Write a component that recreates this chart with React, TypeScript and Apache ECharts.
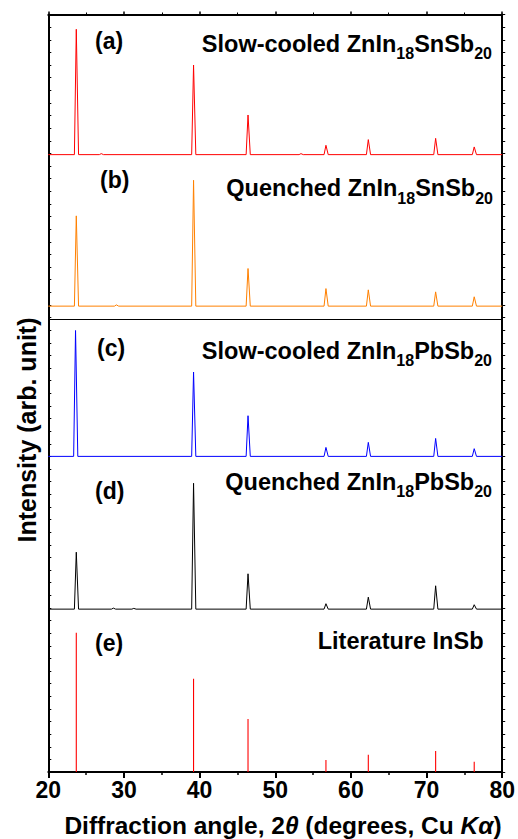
import React, { useEffect, useRef } from "react";
import * as echarts from "echarts";

// ---- data ----
const xMin = 20;
const xMax = 80;
const xTickStep = 10;

const panelLabels = ["(a)", "(b)", "(c)", "(d)", "(e)"];
const titleParts: string[][] = [
  ["Slow-cooled ZnIn", "18", "SnSb", "20"],
  ["Quenched ZnIn", "18", "SnSb", "20"],
  ["Slow-cooled ZnIn", "18", "PbSb", "20"],
  ["Quenched ZnIn", "18", "PbSb", "20"],
  ["Literature InSb"],
];

// 2θ positions (degrees) and intensities (arb. unit)
const peaksA = [23.7, 27.0, 39.2, 46.4, 53.4, 56.7, 62.3, 71.2, 76.3];
const intensA = [99.3, 0.8, 71.0, 31.4, 0.8, 7.4, 11.9, 12.9, 6.1];
const peaksB = [23.7, 29.0, 39.2, 46.4, 56.7, 62.3, 71.2, 76.3];
const intensB = [71.5, 1.0, 99.7, 29.8, 13.9, 12.9, 11.3, 7.4];
const peaksC = [23.6, 39.2, 46.4, 56.7, 62.3, 71.2, 76.3];
const intensC = [99.7, 66.8, 32.2, 7.1, 11.1, 14.2, 6.1];
const peaksD = [23.7, 28.6, 31.3, 39.2, 46.4, 56.7, 62.3, 71.2, 76.3];
const intensD = [45.1, 0.8, 0.6, 99.7, 28.0, 4.3, 9.5, 18.5, 3.5];
const peaksE = [23.7, 39.2, 46.4, 56.7, 62.3, 71.2, 76.3];
const intensE = [110.3, 73.9, 42.0, 9.5, 13.7, 16.6, 8.2];

// vertical stacking offsets of each pattern (arb. unit)
const offsets = [489, 369, 250, 129, 0];
const dividerLevel = 359;
const yMax = 600;

// ---- styling / layout ----
const FONT = '"Liberation Sans", Arial, sans-serif';
const colors = ["#ff0000", "#ff8000", "#0000ff", "#000000", "#ff0000"];
const labelPos = [
  [95, 41],
  [100, 180],
  [97, 348],
  [95, 491],
  [95, 643],
];
const titlePos = [
  [492, 52.3],
  [493, 196.7],
  [492, 359.3],
  [492, 490],
  [483.5, 649.3],
];
const MAIN_SIZE = 23.5;
const SUB_SIZE = 16;

function profile(peaks: number[], intens: number[], off: number) {
  const pts: number[][] = [[xMin, off]];
  peaks.forEach((p, i) => {
    pts.push([p - 0.25, off], [p, off + intens[i]], [p + 0.3, off]);
  });
  pts.push([xMax, off]);
  return pts;
}

export default function App() {
  const ref = useRef<HTMLDivElement>(null);
  useEffect(() => {
    if (!ref.current) return;
    const chart = echarts.init(ref.current, undefined, { renderer: "svg" });

    const canvas = document.createElement("canvas");
    const ctx = canvas.getContext("2d")!;
    const tw = (t: string, size: number) => {
      ctx.font = `bold ${size}px ${FONT}`;
      return ctx.measureText(t).width;
    };

    const graphics: any[] = [];
    // panel labels
    panelLabels.forEach((lab, i) => {
      graphics.push({
        type: "text",
        x: labelPos[i][0],
        y: labelPos[i][1],
        style: {
          text: lab,
          font: `bold 23px ${FONT}`,
          fill: "#000",
          textAlign: "left",
          textVerticalAlign: "middle",
          align: "left",
          verticalAlign: "middle",
        },
      });
    });
    // titles with subscripts
    titleParts.forEach((parts, i) => {
      let right = titlePos[i][0];
      const base = titlePos[i][1];
      for (let k = parts.length - 1; k >= 0; k--) {
        const isSub = k % 2 === 1;
        const size = isSub ? SUB_SIZE : MAIN_SIZE;
        const w = tw(parts[k], size);
        const left = right - w;
        const bl = isSub ? base + 7 : base;
        graphics.push({
          type: "text",
          x: left,
          y: bl - 0.35 * size,
          style: {
            text: parts[k],
            font: `bold ${size}px ${FONT}`,
            fill: "#000",
            textAlign: "left",
            textVerticalAlign: "middle",
            align: "left",
            verticalAlign: "middle",
          },
        });
        right = left;
      }
    });
    // y axis title
    graphics.push({
      type: "text",
      x: 27,
      y: 430,
      rotation: Math.PI / 2,
      style: {
        text: "Intensity (arb. unit)",
        font: `bold 25px ${FONT}`,
        fill: "#000",
        textAlign: "center",
        textVerticalAlign: "middle",
        align: "center",
        verticalAlign: "middle",
      },
    });
    // x axis title
    graphics.push({
      type: "text",
      x: 283,
      y: 825,
      style: {
        text: "Diffraction angle, 2{i|θ} (degrees, Cu {i|Kα})",
        fontSize: 24.5,
        fontWeight: "bold",
        fontFamily: FONT,
        fill: "#000",
        textAlign: "center",
        textVerticalAlign: "middle",
        align: "center",
        verticalAlign: "middle",
        rich: {
          i: {
            fontSize: 24.5,
            fontWeight: "bold",
            fontStyle: "italic",
            fontFamily: FONT,
            fill: "#000",
          },
        },
      },
    });

    const axisLine = { show: true, onZero: false, lineStyle: { color: "#000", width: 2 } };

    const lineSeries = [
      [peaksA, intensA],
      [peaksB, intensB],
      [peaksC, intensC],
      [peaksD, intensD],
    ].map(([p, h], i) => ({
      type: "line",
      data: profile(p as number[], h as number[], offsets[i]),
      showSymbol: false,
      symbol: "none",
      lineStyle: { color: colors[i], width: 1 },
      itemStyle: { color: colors[i] },
      silent: true,
      z: 3,
      ...(i === 0
        ? {
            markLine: {
              silent: true,
              symbol: ["none", "none"],
              label: { show: false },
              lineStyle: { color: "#000", width: 1, type: "solid" },
              data: [{ yAxis: dividerLevel }],
            },
          }
        : {}),
    }));

    const option: any = {
      animation: false,
      grid: { left: 48.3, right: 14, top: 14.5, bottom: 67, containLabel: false },
      xAxis: [
        {
          type: "value",
          min: xMin,
          max: xMax,
          interval: xTickStep,
          position: "bottom",
          axisLine,
          axisTick: { show: true, inside: false, length: 6, lineStyle: { color: "#000", width: 2 } },
          minorTick: { show: true, splitNumber: 2, length: 3, lineStyle: { color: "#000", width: 1.5 } },
          axisLabel: { fontSize: 23, fontWeight: "bold", color: "#000", fontFamily: FONT, margin: 6 },
          splitLine: { show: false },
          minorSplitLine: { show: false },
        },
        {
          type: "value",
          min: xMin,
          max: xMax,
          interval: xTickStep,
          position: "top",
          axisLine,
          axisTick: { show: true, inside: false, length: 3, lineStyle: { color: "#000", width: 1.5 } },
          minorTick: { show: true, splitNumber: 2, length: 2, lineStyle: { color: "#000", width: 1 } },
          axisLabel: { show: false },
          splitLine: { show: false },
        },
      ],
      yAxis: [
        {
          type: "value",
          min: 0,
          max: yMax,
          interval: 10,
          position: "left",
          axisLine,
          axisTick: { show: true, inside: true, length: 3, lineStyle: { color: "#000", width: 1 } },
          axisLabel: { show: false },
          splitLine: { show: false },
        },
        {
          type: "value",
          min: 0,
          max: yMax,
          interval: 10,
          position: "right",
          axisLine,
          axisTick: { show: true, inside: false, length: 3, lineStyle: { color: "#000", width: 1 } },
          axisLabel: { show: false },
          splitLine: { show: false },
        },
      ],
      series: [
        ...lineSeries,
        {
          type: "bar",
          data: peaksE.map((p, i) => [p, intensE[i]]),
          barWidth: 1.1,
          itemStyle: { color: colors[4] },
          silent: true,
        },
      ],
      graphic: graphics,
    };
    chart.setOption(option);
    return () => chart.dispose();
  }, []);
  return (
    <div
      ref={ref}
      style={{ position: "absolute", left: 0, top: 0, width: 518, height: 839, background: "#fff" }}
    />
  );
}
